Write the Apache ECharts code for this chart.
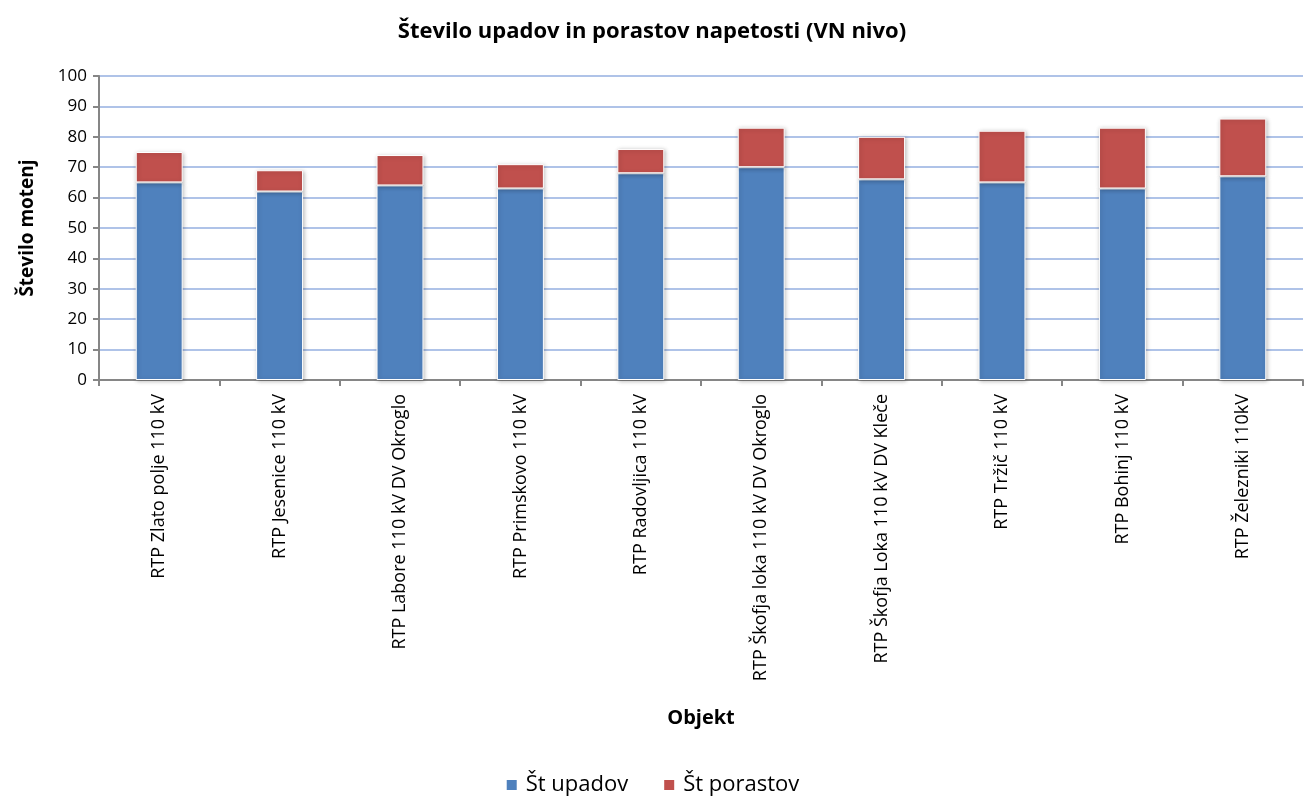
<!DOCTYPE html>
<html><head><meta charset="utf-8">
<script src="https://cdn.jsdelivr.net/npm/echarts@6/dist/echarts.min.js"></script>
<style>html,body{margin:0;padding:0;background:#fff}#c{width:1304px;height:803px}</style>
</head><body><div id="c"></div>
<script>
const categories = ["RTP Zlato polje 110 kV","RTP Jesenice 110 kV","RTP Labore 110 kV DV Okroglo","RTP Primskovo 110 kV","RTP Radovljica 110 kV","RTP Škofja loka 110 kV DV Okroglo","RTP Škofja Loka 110 kV DV Kleče","RTP Tržič 110 kV","RTP Bohinj 110 kV","RTP Železniki 110kV"];
const upadov = [65,62,64,63,68,70,66,65,63,67];
const porastov = [10,7,10,8,8,13,14,17,20,19];
const FONT = "'Open Sans','Noto Sans',sans-serif";
const chart = echarts.init(document.getElementById('c'), null, {renderer:'canvas'});
const itemBase = {borderColor:'#ffffff', borderWidth:1, shadowColor:'rgba(0,0,0,0.25)', shadowBlur:4, shadowOffsetX:1, shadowOffsetY:1};
chart.setOption({
  animation:false,
  backgroundColor:'#ffffff',
  title:{text:'Število upadov in porastov napetosti (VN nivo)', left:'center', top:16,
    textStyle:{fontFamily:FONT, fontWeight:'bold', fontSize:22, color:'#000'}},
  legend:{bottom:2, left:'center', itemWidth:12, itemHeight:12, itemGap:34, icon:'rect',
    textStyle:{fontFamily:FONT, fontSize:22, color:'#000', padding:[0,0,0,3]}},
  grid:{left:99, right:1, top:76, bottom:423},
  xAxis:{type:'category', data:categories, name:'Objekt', nameLocation:'middle', nameGap:328,
    nameTextStyle:{fontFamily:FONT, fontWeight:'bold', fontSize:20, color:'#000'},
    axisLine:{lineStyle:{color:'#868686', width:2}},
    axisTick:{show:true, length:6, lineStyle:{color:'#868686', width:2}},
    axisLabel:{rotate:90, fontFamily:FONT, fontSize:18, color:'#000', margin:14}},
  yAxis:{type:'value', min:0, max:100, interval:10, name:'Število motenj', nameLocation:'middle', nameGap:62,
    nameTextStyle:{fontFamily:FONT, fontWeight:'bold', fontSize:19, color:'#000'},
    axisLine:{show:true, lineStyle:{color:'#868686', width:2}},
    axisTick:{show:true, inside:false, length:6, lineStyle:{color:'#868686', width:2}},
    axisLabel:{fontFamily:FONT, fontSize:17, color:'#000', margin:12},
    splitLine:{lineStyle:{color:'#AFC3E8', width:2}}},
  series:[
    {name:'Št upadov', type:'bar', stack:'s', data:upadov, barWidth:'39%',
     itemStyle:Object.assign({color:'#4F81BD'}, itemBase)},
    {name:'Št porastov', type:'bar', stack:'s', data:porastov, barWidth:'39%',
     itemStyle:Object.assign({color:'#C0504D'}, itemBase)}
  ]
});
</script></body></html>
